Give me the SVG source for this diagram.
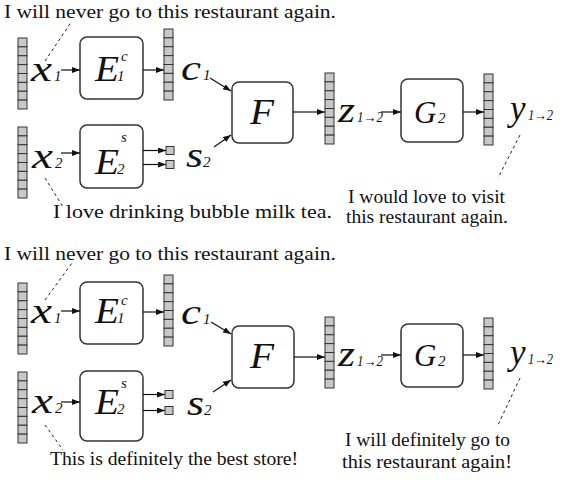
<svg xmlns="http://www.w3.org/2000/svg" width="561" height="480" viewBox="0 0 561 480">
<style>
.bg{fill:#fff}
.box{fill:#fff;stroke:#333;stroke-width:1.5}
.cell{fill:#c8c8c8;stroke:#333;stroke-width:1}
.ln{stroke:#111;stroke-width:1.2;fill:none}
.dash{stroke:#222;stroke-width:1;stroke-dasharray:3,3;fill:none}
.txt{font-family:'Liberation Serif','Times New Roman',Times,serif;font-size:18px;fill:#111}
.sym{font-family:'Liberation Serif','Times New Roman',Times,serif;font-style:italic;font-size:35px;fill:#111}
.sub{font-family:'Liberation Serif','Times New Roman',Times,serif;font-style:italic;font-size:15px;fill:#111}
</style>
<defs>
<marker id="ah" markerUnits="userSpaceOnUse" markerWidth="9" markerHeight="7" refX="8" refY="3" orient="auto">
<path d="M0,0 L8,3 L0,6 Z" fill="#111"/>
</marker>
<g id="vec">
<rect class="cell" x="0" y="0" width="9" height="8.875"/>
<rect class="cell" x="0" y="8.875" width="9" height="8.875"/>
<rect class="cell" x="0" y="17.75" width="9" height="8.875"/>
<rect class="cell" x="0" y="26.625" width="9" height="8.875"/>
<rect class="cell" x="0" y="35.5" width="9" height="8.875"/>
<rect class="cell" x="0" y="44.375" width="9" height="8.875"/>
<rect class="cell" x="0" y="53.25" width="9" height="8.875"/>
<rect class="cell" x="0" y="62.125" width="9" height="8.875"/>
</g>
</defs>
<rect class="bg" x="0" y="0" width="561" height="480"/>

<!-- ===== TOP PANEL ===== -->
<g id="top-texts">
<text class="txt" x="4" y="18" textLength="332" lengthAdjust="spacingAndGlyphs">I will never go to this restaurant again.</text>
<text class="txt" x="53" y="218" textLength="279" lengthAdjust="spacingAndGlyphs">I love drinking bubble milk tea.</text>
<text class="txt" x="348" y="203" textLength="157" lengthAdjust="spacingAndGlyphs">I would love to visit</text>
<text class="txt" x="346" y="223" textLength="162" lengthAdjust="spacingAndGlyphs">this restaurant again.</text>
</g>
<g id="t-x1">
<use href="#vec" transform="translate(18,38)"/>
<text class="sym" x="31" y="81" textLength="21" lengthAdjust="spacingAndGlyphs">x</text>
<text class="sub" x="54" y="81">1</text>
</g>
<g id="t-E1c">
<rect class="box" x="80" y="37" width="63" height="62" rx="7"/>
<text class="sym" x="95" y="81" textLength="24" lengthAdjust="spacingAndGlyphs">E</text>
<text class="sub" x="121" y="61">c</text>
<text class="sub" x="117" y="81">1</text>
</g>
<g id="t-c1">
<use href="#vec" transform="translate(164,29)"/>
<text class="sym" x="181" y="80" textLength="20" lengthAdjust="spacingAndGlyphs">c</text>
<text class="sub" x="203" y="80">1</text>
</g>
<g id="t-x2">
<use href="#vec" transform="translate(18,127)"/>
<text class="sym" x="32" y="168" textLength="21" lengthAdjust="spacingAndGlyphs">x</text>
<text class="sub" x="55" y="168">2</text>
</g>
<g id="t-E2s">
<rect class="box" x="80" y="125" width="63" height="63" rx="7"/>
<text class="sym" x="95" y="174" textLength="24" lengthAdjust="spacingAndGlyphs">E</text>
<text class="sub" x="121" y="142">s</text>
<text class="sub" x="117" y="174">2</text>
</g>
<g id="t-s2">
<rect class="cell" x="166" y="146.5" width="8" height="8"/>
<rect class="cell" x="166" y="160.5" width="8" height="8"/>
<text class="sym" x="186" y="167" textLength="17" lengthAdjust="spacingAndGlyphs">s</text>
<text class="sub" x="203" y="167">2</text>
</g>
<g id="t-F">
<rect class="box" x="232" y="82" width="61" height="61" rx="7"/>
<text class="sym" x="250" y="124" textLength="24" lengthAdjust="spacingAndGlyphs">F</text>
</g>
<g id="t-z">
<use href="#vec" transform="translate(325,73)"/>
<text class="sym" x="338" y="122" textLength="17" lengthAdjust="spacingAndGlyphs">z</text>
<text class="sub" x="357" y="122" textLength="26" lengthAdjust="spacingAndGlyphs">1→2</text>
</g>
<g id="t-G2">
<rect class="box" x="401" y="79" width="62" height="63" rx="7"/>
<text class="sym" x="414" y="123" style="font-size:31px">G</text>
<text class="sub" x="438" y="123">2</text>
</g>
<g id="t-y">
<use href="#vec" transform="translate(484,74)"/>
<text class="sym" x="510" y="120">y</text>
<text class="sub" x="528" y="120" textLength="25" lengthAdjust="spacingAndGlyphs">1→2</text>
</g>
<g id="top-connectors">
<line class="ln" x1="61" y1="70" x2="80" y2="70" marker-end="url(#ah)"/>
<line class="ln" x1="143" y1="70" x2="164" y2="70" marker-end="url(#ah)"/>
<line class="ln" x1="61" y1="153" x2="80" y2="153" marker-end="url(#ah)"/>
<line class="ln" x1="143" y1="150.5" x2="166" y2="150.5" marker-end="url(#ah)"/>
<line class="ln" x1="143" y1="164.5" x2="166" y2="164.5" marker-end="url(#ah)"/>
<line class="ln" x1="210" y1="78" x2="231" y2="91" marker-end="url(#ah)"/>
<line class="ln" x1="214" y1="147" x2="231" y2="135" marker-end="url(#ah)"/>
<line class="ln" x1="293" y1="112" x2="325" y2="112" marker-end="url(#ah)"/>
<line class="ln" x1="381" y1="112" x2="401" y2="112" marker-end="url(#ah)"/>
<line class="ln" x1="463" y1="112" x2="484" y2="112" marker-end="url(#ah)"/>
<line class="dash" x1="45" y1="61" x2="72" y2="21"/>
<line class="dash" x1="45" y1="178" x2="63" y2="207"/>
<line class="dash" x1="520" y1="135" x2="498" y2="178"/>
</g>

<!-- ===== BOTTOM PANEL ===== -->
<g id="bottom-texts">
<text class="txt" x="4" y="260" textLength="332" lengthAdjust="spacingAndGlyphs">I will never go to this restaurant again.</text>
<text class="txt" x="50" y="465" textLength="248" lengthAdjust="spacingAndGlyphs">This is definitely the best store!</text>
<text class="txt" x="345" y="446" textLength="165" lengthAdjust="spacingAndGlyphs">I will definitely go to</text>
<text class="txt" x="342" y="468" textLength="170" lengthAdjust="spacingAndGlyphs">this restaurant again!</text>
</g>
<g id="b-x1">
<use href="#vec" transform="translate(18,283)"/>
<text class="sym" x="31" y="323" textLength="21" lengthAdjust="spacingAndGlyphs">x</text>
<text class="sub" x="54" y="323">1</text>
</g>
<g id="b-E1c">
<rect class="box" x="80" y="282" width="63" height="62" rx="7"/>
<text class="sym" x="95" y="323" textLength="24" lengthAdjust="spacingAndGlyphs">E</text>
<text class="sub" x="121" y="305">c</text>
<text class="sub" x="117" y="323">1</text>
</g>
<g id="b-c1">
<use href="#vec" transform="translate(164,275)"/>
<text class="sym" x="181" y="324" textLength="20" lengthAdjust="spacingAndGlyphs">c</text>
<text class="sub" x="203" y="324">1</text>
</g>
<g id="b-x2">
<use href="#vec" transform="translate(18,372)"/>
<text class="sym" x="32" y="413" textLength="21" lengthAdjust="spacingAndGlyphs">x</text>
<text class="sub" x="55" y="413">2</text>
</g>
<g id="b-E2s">
<rect class="box" x="80" y="371" width="63" height="70" rx="7"/>
<text class="sym" x="95" y="414" textLength="24" lengthAdjust="spacingAndGlyphs">E</text>
<text class="sub" x="121" y="388">s</text>
<text class="sub" x="117" y="414">2</text>
</g>
<g id="b-s2">
<rect class="cell" x="165" y="390.5" width="8" height="8"/>
<rect class="cell" x="165" y="406.5" width="8" height="8"/>
<text class="sym" x="187" y="415" textLength="17" lengthAdjust="spacingAndGlyphs">s</text>
<text class="sub" x="204" y="415">2</text>
</g>
<g id="b-F">
<rect class="box" x="232" y="326" width="62" height="62" rx="7"/>
<text class="sym" x="250" y="368" textLength="24" lengthAdjust="spacingAndGlyphs">F</text>
</g>
<g id="b-z">
<use href="#vec" transform="translate(325,317)"/>
<text class="sym" x="338" y="366" textLength="17" lengthAdjust="spacingAndGlyphs">z</text>
<text class="sub" x="357" y="366" textLength="26" lengthAdjust="spacingAndGlyphs">1→2</text>
</g>
<g id="b-G2">
<rect class="box" x="401" y="324" width="62" height="63" rx="7"/>
<text class="sym" x="414" y="366" style="font-size:31px">G</text>
<text class="sub" x="438" y="366">2</text>
</g>
<g id="b-y">
<use href="#vec" transform="translate(484,318)"/>
<text class="sym" x="510" y="364">y</text>
<text class="sub" x="528" y="364" textLength="25" lengthAdjust="spacingAndGlyphs">1→2</text>
</g>
<g id="bottom-connectors">
<line class="ln" x1="61" y1="311" x2="80" y2="311" marker-end="url(#ah)"/>
<line class="ln" x1="143" y1="312" x2="164" y2="312" marker-end="url(#ah)"/>
<line class="ln" x1="61" y1="402" x2="80" y2="402" marker-end="url(#ah)"/>
<line class="ln" x1="143" y1="394.5" x2="165" y2="394.5" marker-end="url(#ah)"/>
<line class="ln" x1="143" y1="410.5" x2="165" y2="410.5" marker-end="url(#ah)"/>
<line class="ln" x1="211" y1="322" x2="231" y2="334" marker-end="url(#ah)"/>
<line class="ln" x1="213" y1="392" x2="231" y2="380" marker-end="url(#ah)"/>
<line class="ln" x1="294" y1="357" x2="325" y2="357" marker-end="url(#ah)"/>
<line class="ln" x1="381" y1="355" x2="401" y2="355" marker-end="url(#ah)"/>
<line class="ln" x1="463" y1="355" x2="484" y2="355" marker-end="url(#ah)"/>
<line class="dash" x1="45" y1="300" x2="72" y2="263"/>
<line class="dash" x1="45" y1="425" x2="63" y2="450"/>
<line class="dash" x1="520" y1="378" x2="498" y2="425"/>
</g>
</svg>
